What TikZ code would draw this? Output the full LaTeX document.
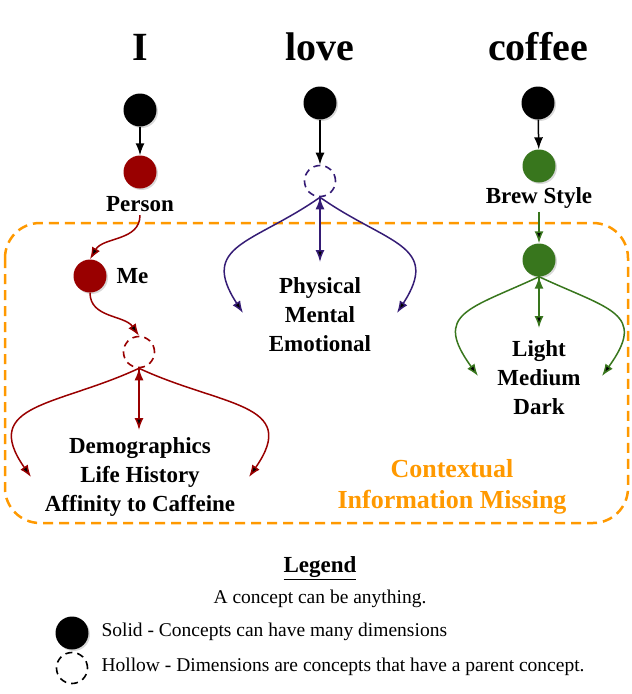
\documentclass[tikz,border=0pt]{standalone}
\usepackage{fontspec}
\setmainfont{Liberation Serif}
\usetikzlibrary{arrows.meta,shadows}
\definecolor{personred}{HTML}{990000}
\definecolor{lovepurple}{HTML}{351C75}
\definecolor{brewgreen}{HTML}{38761D}
\definecolor{missingorange}{HTML}{FF9900}

\begin{document}
\begin{tikzpicture}[x=1pt,y=1pt,>={Latex[length=12pt,width=9pt]},
	solid dot/.style={circle,fill=#1,minimum size=33pt,inner sep=0pt,
		drop shadow={opacity=0.3,shadow xshift=1.5pt,shadow yshift=-1.5pt}},
	hollow dot/.style={circle,draw=#1,line width=1.6pt,dash pattern=on 7pt off 5pt,
		minimum size=31pt,inner sep=0pt},
	word/.style={font=\fontsize{40}{48}\selectfont\bfseries},
	dims/.style={font=\fontsize{23}{29}\selectfont\bfseries,align=center},
	legendtext/.style={font=\fontsize{19.5}{24}\selectfont,anchor=west},
	link/.style={->,line width=1.5pt,draw=#1}]
	\useasboundingbox (0,0) rectangle (632,-694);
	% context box
	\draw[missingorange,line width=2.5pt,dash pattern=on 10pt off 6pt,rounded corners=35pt]
		(5,-223) rectangle (628,-523);
	\node[font=\fontsize{26}{31}\selectfont\bfseries,align=center,text=missingorange] (missing)
		at (452,-487) {Contextual\\Information Missing};
	% words
	\node[word] (i) at (140,-47) {I};
	\node[word] (love) at (320,-47) {love};
	\node[word] (coffee) at (538,-47) {coffee};
	% I
	\node[solid dot=black] (iconc) at (140,-110) {};
	\node[solid dot=personred] (person) at (140,-172) {};
	\node[dims] (personlbl) at (140,-204) {Person};
	\node[solid dot=personred] (me) at (90,-276) {};
	\node[dims,anchor=west] (melbl) at (113,-276) {Me};
	\node[hollow dot=personred] (persondim) at (139,-352) {};
	\node[dims] (persontxt) at (140,-477) {Demographics\\Life History\\Affinity to Caffeine};
	\coordinate (redL) at (31,-477);
	\coordinate (redM) at (139,-430);
	\coordinate (redR) at (249,-477);
	% love
	\node[solid dot=black] (loveconc) at (320,-103) {};
	\node[hollow dot=lovepurple] (lovedim) at (320,-181) {};
	\node[dims] (lovetxt) at (320,-315) {Physical\\Mental\\Emotional};
	\coordinate (purpleL) at (243,-313);
	\coordinate (purpleM) at (320,-262);
	\coordinate (purpleR) at (397,-313);
	% coffee
	\node[solid dot=black] (coffeeconc) at (538,-103) {};
	\node[solid dot=brewgreen] (brew) at (539,-166) {};
	\node[dims] (brewlbl) at (539,-198) {Brew Style};
	\node[solid dot=brewgreen] (roast) at (539,-260) {};
	\node[dims] (roasttxt) at (539,-378) {Light\\Medium\\Dark};
	\coordinate (greenL) at (478,-376);
	\coordinate (greenM) at (539,-328);
	\coordinate (greenR) at (602,-376);
	% legend
	\node[font=\fontsize{23}{28}\selectfont\bfseries] (legend) at (320,-568) {\underline{Legend}};
	\node[font=\fontsize{19.5}{24}\selectfont] (anything) at (320,-599) {A concept can be anything.};
	\node[solid dot=black] (legsolid) at (72,-633) {};
	\node[hollow dot=black] (leghollow) at (72,-668) {};
	\node[legendtext] (solidtxt) at (98,-632) {Solid - Concepts can have many dimensions};
	\node[legendtext] (hollowtxt) at (98,-667) {Hollow - Dimensions are concepts that have a parent concept.};
	% connectors
	\path[link=black]
		(iconc) edge (person)
		(loveconc) edge (lovedim)
		(coffeeconc) edge (brew);
	\path[link=personred]
		(personlbl.south) edge[out=-90,in=60] (me.north)
		(me.south) edge[out=-90,in=125] (persondim.north)
		(persondim.south) edge[out=205,in=125,looseness=1.5] (redL)
		(persondim.south) edge (redM)
		(persondim.south) edge[out=-25,in=55,looseness=1.5] (redR);
	\path[link=lovepurple]
		(lovedim.south) edge[out=215,in=123,looseness=1.5] (purpleL)
		(lovedim.south) edge (purpleM)
		(lovedim.south) edge[out=-35,in=57,looseness=1.5] (purpleR);
	\path[link=brewgreen]
		(brewlbl.south) edge (roast)
		(roast.south) edge[out=205,in=126,looseness=1.7] (greenL)
		(roast.south) edge (greenM)
		(roast.south) edge[out=-25,in=54,looseness=1.7] (greenR);
\end{tikzpicture}
\end{document}
